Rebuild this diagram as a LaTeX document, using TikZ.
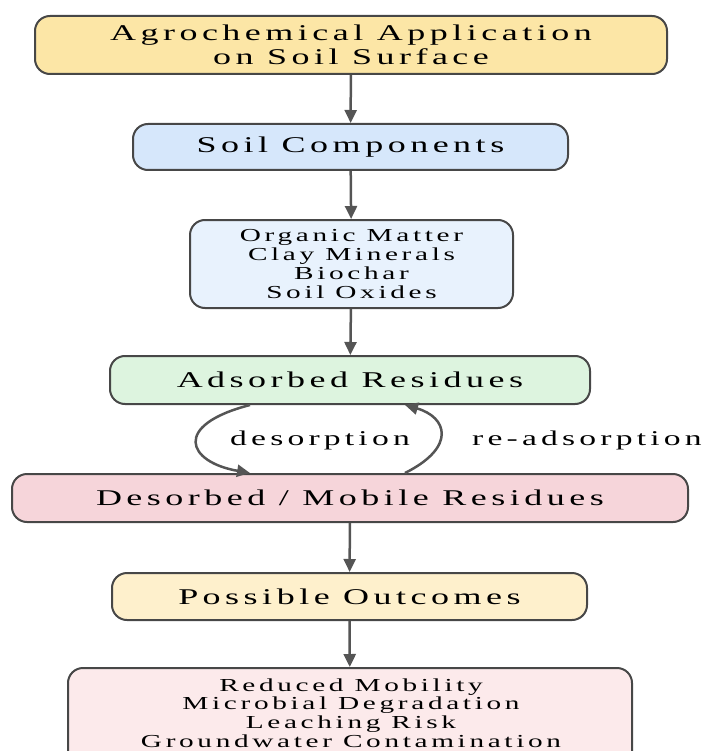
\documentclass[tikz,border=0pt]{standalone}
\usepackage{fontspec}
\setmainfont{Liberation Serif}
\newfontfamily\widefont[FakeStretch=1.6,LetterSpace=20]{Liberation Serif}
\usetikzlibrary{arrows.meta}
\definecolor{bordc}{HTML}{474747}
\definecolor{arrc}{HTML}{555555}
\definecolor{cA}{HTML}{FCE6A6}
\definecolor{cB}{HTML}{D6E7FB}
\definecolor{cC}{HTML}{E8F2FD}
\definecolor{cD}{HTML}{DDF4DF}
\definecolor{cE}{HTML}{F6D5DA}
\definecolor{cF}{HTML}{FEF0CC}
\definecolor{cG}{HTML}{FCEAEB}
\tikzset{
  box/.style={draw=bordc, line width=2pt, rounded corners=15pt, inner sep=0pt, align=center,
    font=\widefont\fontsize{22.5}{24}\selectfont},
  smallbox/.style={box, font=\widefont\fontsize{18.3}{18.7}\selectfont},
  conn/.style={draw=arrc, line width=2.5pt, -{Triangle[length=13pt,width=12pt]}},
  curv/.style={draw=arrc, line width=2.5pt, -{Triangle[length=13pt,width=12pt]}},
  lbl/.style={font=\widefont\fontsize{21}{24}\selectfont, inner sep=0pt}
}
\begin{document}
\begin{tikzpicture}[x=1pt,y=-1pt]
\useasboundingbox (0,0) rectangle (701,751);
\begin{scope}
\clip (0,0) rectangle (701,751);
\node[box, fill=cA, minimum width=632pt, minimum height=58pt] (app) at (351,45) {Agrochemical Application\\on Soil Surface};
\node[box, fill=cB, minimum width=435pt, minimum height=46pt] (comp) at (350.5,147) {Soil Components};
\node[smallbox, fill=cC, minimum width=323pt, minimum height=88pt] (list) at (351.5,264) {Organic Matter\\Clay Minerals\\Biochar\\Soil Oxides};
\node[box, fill=cD, minimum width=480pt, minimum height=48pt] (ads) at (350,380) {Adsorbed Residues};
\node[box, fill=cE, minimum width=676pt, minimum height=48pt] (des) at (350,498) {Desorbed / Mobile Residues};
\node[box, fill=cF, minimum width=475pt, minimum height=47pt] (pos) at (349.5,596.5) {Possible Outcomes};
\node[smallbox, fill=cG, minimum width=564pt, minimum height=100pt] (out) at (350,718) {};
\node[font=\widefont\fontsize{18.3}{18.7}\selectfont, align=center, inner sep=0pt] (outtxt) at (351,713) {Reduced Mobility\\Microbial Degradation\\Leaching Risk\\Groundwater Contamination};

\draw[conn] (app) -- (comp);
\draw[conn] (comp) -- (list);
\draw[conn] (list) -- (ads);
\draw[conn] (des) -- (pos);
\draw[conn] (pos) -- (out);

\coordinate (d1) at ([xshift=-100pt]ads.south);
\coordinate (d2) at ([xshift=-100pt]des.north);
\coordinate (r1) at ([xshift=55pt]des.north);
\coordinate (r2) at ([xshift=55pt]ads.south);
\draw[curv] (d1) .. controls (172,425) and (187,462) .. (d2);
\draw[curv] (r1) .. controls (457,447) and (447,417) .. (r2);
\node[lbl] (ldes) at (320,440) {desorption};
\node[lbl] (lre) at (587,440) {re-adsorption};
\end{scope}
\end{tikzpicture}
\end{document}
